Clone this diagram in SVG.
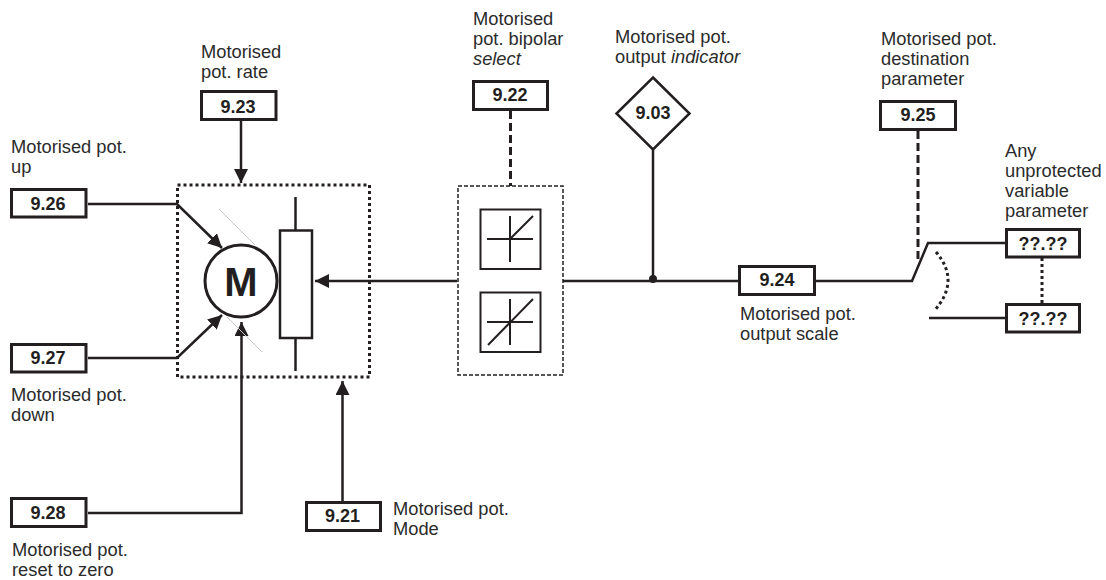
<svg xmlns="http://www.w3.org/2000/svg" width="1106" height="580" viewBox="0 0 1106 580">
<style>
text{font-family:"Liberation Sans",Arial,sans-serif;font-size:18.3px;fill:#2b2b2b}
.id{font-weight:bold;font-size:18px;text-anchor:middle;fill:#231f20}
.box{fill:#fff;stroke:#231f20;stroke-width:3}
.l{fill:none;stroke:#231f20;stroke-width:2.5}
.t{fill:none;stroke:#231f20;stroke-width:2}
.dash{fill:none;stroke:#231f20;stroke-width:3;stroke-dasharray:8 4}
.dot{fill:none;stroke:#231f20;stroke-width:3;stroke-dasharray:3 3}
.fine{fill:none;stroke:#231f20;stroke-width:1.5;stroke-dasharray:4 2}
.head{fill:#231f20}
</style>
<defs>
<marker id="a" viewBox="0 0 14 14" refX="14" refY="7" markerWidth="14" markerHeight="14" markerUnits="userSpaceOnUse" orient="auto"><path class="head" d="M0 0L14 7L0 14Z"/></marker>
</defs>
<rect width="1106" height="580" fill="#fff"/>
<g id="connectors">
<path class="l" d="M241 120V183" marker-end="url(#a)"/>
<path class="l" d="M88 204H177L222 248" marker-end="url(#a)"/>
<path class="l" d="M88 358H177L222 315" marker-end="url(#a)"/>
<path class="l" d="M88 513H241.500V322" marker-end="url(#a)"/>
<path class="l" d="M342.500 501V381" marker-end="url(#a)"/>
<path class="l" d="M457 281H315" marker-end="url(#a)"/>
<path class="l" d="M563 281H738M816 281H912L928 243H1005M929 318H1005"/>
<path class="l" d="M653 150V281"/>
<circle class="head" cx="653" cy="279" r="4"/>
<path class="dash" d="M510.500 111V186M918 131V262"/>
<path class="dot" d="M1042 258V303"/>
<path class="dot" d="M936 252Q961 281 934 311"/>
</g>
<g id="motor-block">
<path d="M219 209L255 245M227 317L262 352" fill="none" stroke="#c8c8c8" stroke-width="1"/>
<rect x="177.500" y="185" width="192" height="192" fill="none" stroke="#231f20" stroke-width="3" stroke-dasharray="3 3"/>
<circle cx="241" cy="281" r="36" fill="#fff" stroke="#231f20" stroke-width="3"/>
<text x="241" y="296" style="font-size:40px;font-weight:bold;text-anchor:middle;fill:#231f20">M</text>
<path class="l" d="M295.500 197V230M295.500 338V371"/>
<rect x="280" y="230.500" width="32" height="107.500" fill="#fff" stroke="#231f20" stroke-width="2.500"/>
</g>
<g id="bipolar-block">
<rect x="458" y="186" width="105" height="189" class="fine"/>
<rect x="480.500" y="209.500" width="60" height="59.500" class="t"/>
<path class="t" d="M487 239H533M510 216V262M510 239L533 216"/>
<rect x="480.500" y="292.500" width="60" height="59.500" class="t"/>
<path class="t" d="M487 322H533M510 299V345M488 345L533 299"/>
</g>
<g id="n923"><rect class="box" x="201.500" y="91.500" width="74.500" height="28"/><text class="id" x="238" y="113">9.23</text></g>
<g id="n926"><rect class="box" x="11.500" y="189.500" width="74.500" height="27.500"/><text class="id" x="48" y="210">9.26</text></g>
<g id="n927"><rect class="box" x="11.500" y="344.500" width="74.500" height="27.500"/><text class="id" x="48" y="364">9.27</text></g>
<g id="n928"><rect class="box" x="11.500" y="498.500" width="74.500" height="28"/><text class="id" x="48" y="519">9.28</text></g>
<g id="n921"><rect class="box" x="306.500" y="502.500" width="74" height="28"/><text class="id" x="342.500" y="522">9.21</text></g>
<g id="n922"><rect class="box" x="473.500" y="81.500" width="74" height="28"/><text class="id" x="510" y="101">9.22</text></g>
<g id="n903"><path class="box" d="M653 77.500L689.500 113.500L653 149.500L616.500 113.500Z" style="stroke-width:2.500"/><text class="id" x="653" y="119">9.03</text></g>
<g id="n924"><rect class="box" x="739.500" y="266.500" width="75" height="28"/><text class="id" x="777" y="286">9.24</text></g>
<g id="n925"><rect class="box" x="880.500" y="101.500" width="75" height="28"/><text class="id" x="918" y="121">9.25</text></g>
<g id="p1"><rect class="box" x="1006.500" y="229.500" width="73" height="27.500"/><text class="id" x="1043" y="250">??.??</text></g>
<g id="p2"><rect class="box" x="1006.500" y="304.500" width="73" height="27.500"/><text class="id" x="1043" y="325">??.??</text></g>
<g id="labels">
<text x="201" y="58">Motorised</text><text x="201" y="78">pot. rate</text>
<text x="11" y="153">Motorised pot.</text><text x="11" y="173">up</text>
<text x="11" y="401">Motorised pot.</text><text x="11" y="421">down</text>
<text x="12" y="556">Motorised pot.</text><text x="12" y="576">reset to zero</text>
<text x="393" y="515">Motorised pot.</text><text x="393" y="535">Mode</text>
<text x="473" y="25">Motorised</text><text x="473" y="45">pot. bipolar</text><text x="473" y="65" font-style="italic">select</text>
<text x="615" y="43">Motorised pot.</text><text x="615" y="63">output <tspan font-style="italic">indicator</tspan></text>
<text x="881" y="45">Motorised pot.</text><text x="881" y="65">destination</text><text x="881" y="85">parameter</text>
<text x="1005" y="157">Any</text><text x="1005" y="177">unprotected</text><text x="1005" y="197">variable</text><text x="1005" y="217">parameter</text>
<text x="740" y="320">Motorised pot.</text><text x="740" y="340">output scale</text>
</g>
</svg>
